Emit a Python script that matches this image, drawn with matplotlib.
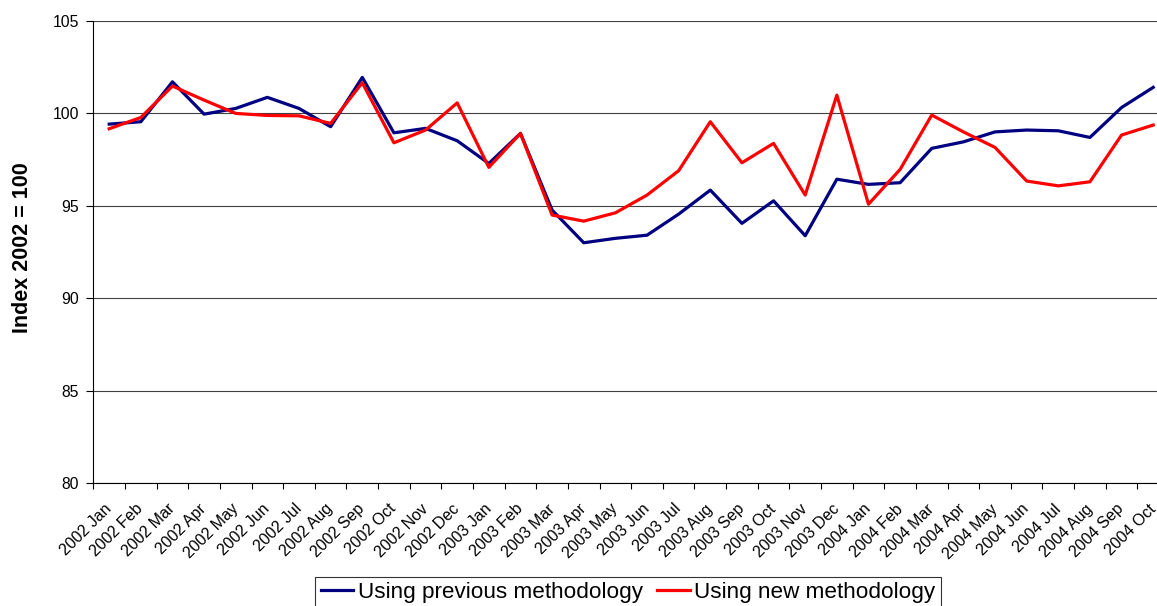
import numpy as np
import matplotlib.pyplot as plt
from matplotlib.ticker import FixedLocator

plt.rcParams['font.family'] = ['Liberation Sans', 'DejaVu Sans']

years = ['2002'] * 12 + ['2003'] * 12 + ['2004'] * 10
months = ['Jan', 'Feb', 'Mar', 'Apr', 'May', 'Jun', 'Jul', 'Aug', 'Sep', 'Oct', 'Nov', 'Dec'] * 3
labels = [f'{y} {m}' for y, m in zip(years, months[:34])]

previous = [99.42, 99.55, 101.71, 99.96, 100.27, 100.87, 100.27, 99.28, 101.95, 98.95,
            99.19, 98.52, 97.29, 98.92, 94.77, 93.00, 93.24, 93.41, 94.55, 95.85,
            94.05, 95.27, 93.38, 96.44, 96.16, 96.25, 98.11, 98.46, 99.00, 99.10,
            99.06, 98.70, 100.32, 101.41]
new = [99.17, 99.78, 101.48, 100.72, 100.00, 99.89, 99.87, 99.46, 101.66, 98.41,
       99.10, 100.57, 97.08, 98.92, 94.50, 94.17, 94.62, 95.58, 96.90, 99.55,
       97.33, 98.38, 95.58, 100.99, 95.09, 96.97, 99.91, 99.00, 98.16, 96.34,
       96.08, 96.30, 98.83, 99.37]

x = np.arange(len(labels))

fig = plt.figure(figsize=(11.57, 6.06), dpi=100)
ax = fig.add_axes([0.0807, 0.203, 1.0104 - 0.0807, 0.9653 - 0.203])

ax.plot(x, previous, color='#000080', lw=2.3, label='Using previous methodology', solid_joinstyle='round')
ax.plot(x, new, color='#FF0000', lw=2.3, label='Using new methodology', solid_joinstyle='round')

ax.set_xlim(-0.5, len(labels) - 0.5)
ax.set_ylim(80, 105)
ax.set_yticks([80, 85, 90, 95, 100, 105])
ax.grid(axis='y', color='#404040', lw=0.8)
ax.set_axisbelow(True)

# category boundaries as major ticks, labels at centres
ax.xaxis.set_major_locator(FixedLocator(np.arange(-0.5, len(labels), 1.0)))
ax.xaxis.set_major_formatter(plt.NullFormatter())
ax.set_xticks(x, minor=True)
ax.set_xticklabels(labels, minor=True, rotation=45, ha='right', va='center',
                   rotation_mode='anchor', fontsize=11.5)
ax.tick_params(axis='x', which='minor', length=0, pad=17)
ax.tick_params(axis='x', which='major', length=4, direction='out', color='black')
ax.tick_params(axis='y', length=5, direction='out', labelsize=11.3, pad=5.5)

for side in ['top', 'right']:
    ax.spines[side].set_visible(False)
ax.spines['left'].set_color('black')
ax.spines['bottom'].set_color('black')

ax.set_ylabel('Index 2002 = 100', fontsize=15.5, fontweight='bold')
ax.yaxis.set_label_coords(22.5 / 1157, 1 - 248 / 606, transform=fig.transFigure)
ax.yaxis.label.set_verticalalignment('center')

leg = fig.legend(loc='upper left', bbox_to_anchor=(315 / 1157, 1 - 576.7 / 606), ncol=2, fontsize=16.2,
                 frameon=True, fancybox=False, edgecolor='black', handlelength=1.43,
                 handletextpad=0.22, columnspacing=0.65, borderpad=0.25, borderaxespad=0)
leg.get_frame().set_linewidth(0.8)

fig.savefig('out.png', dpi=100)
